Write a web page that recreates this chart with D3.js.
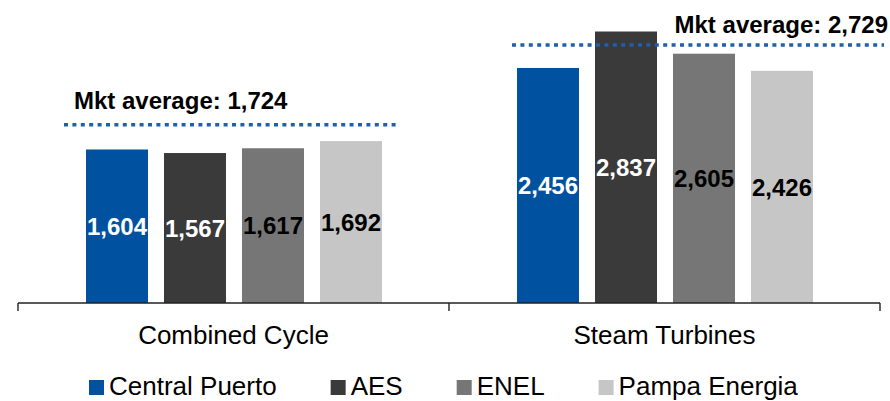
<!DOCTYPE html>
<html>
<head>
<meta charset="utf-8">
<script src="https://d3js.org/d3.v7.min.js"></script>
<style>
  body { margin: 0; background: #fff; }
  svg { display: block; font-family: Arial, 'Liberation Sans', sans-serif; }
</style>
</head>
<body>
<svg width="890" height="401"></svg>
<script>
  // data
  const categories = ['Combined Cycle', 'Steam Turbines'];
  const companies = ['Central Puerto', 'AES', 'ENEL', 'Pampa Energia'];
  const colors = ['#0052a0', '#3a3a3a', '#767676', '#c6c6c6'];
  const labelColors = ['#fff', '#fff', '#000', '#000'];
  const combinedCycle = [1604, 1567, 1617, 1692];
  const steamTurbines = [2456, 2837, 2605, 2426];
  const mktAverage = [1724, 2729];
  // level where the dotted line sits in the source (placed by hand, not at the average)
  const avgLineLevel = [1863, 2696];

  const seriesByCat = [combinedCycle, steamTurbines];

  const svg = d3.select('svg');

  // scales
  const x0 = d3.scaleBand()
    .domain(categories)
    .range([18, 880])
    .padding(0);

  const x1 = d3.scaleBand()
    .domain(companies)
    .range([60, 372])
    .paddingInner(0.205)
    .paddingOuter(0.1025);

  const y = d3.scaleLinear()
    .domain([0, 3000])
    .range([303, 15.9]);

  // bars
  categories.forEach(function(cat, ci) {
    const g = svg.append('g')
      .attr('transform', 'translate(' + x0(cat) + ',0)');

    g.selectAll('rect')
      .data(seriesByCat[ci])
      .join('rect')
      .attr('x', (d, i) => x1(companies[i]))
      .attr('y', d => y(d))
      .attr('width', x1.bandwidth())
      .attr('height', d => y(0) - y(d))
      .style('fill', (d, i) => colors[i]);

    g.selectAll('text')
      .data(seriesByCat[ci])
      .join('text')
      .attr('x', (d, i) => x1(companies[i]) + x1.bandwidth() / 2)
      .attr('y', d => (y(d) + y(0)) / 2 + 8.7)
      .attr('text-anchor', 'middle')
      .style('font-size', '24px')
      .style('font-weight', 'bold')
      .style('fill', (d, i) => labelColors[i])
      .text(d => d3.format(',')(d));
  });

  // market average lines (hand-placed extents as in the source)
  const firstBar = x1(companies[0]);
  const lastBar = x1(companies[3]) + x1.bandwidth();
  const avgSpans = [
    [x0(categories[0]) + firstBar - 22, x0(categories[0]) + lastBar + 18],
    [x0(categories[1]) + firstBar - 5, x0(categories[1]) + lastBar + 71]
  ];

  avgLineLevel.forEach(function(v, i) {
    svg.append('line')
      .attr('x1', avgSpans[i][0])
      .attr('x2', avgSpans[i][1])
      .attr('y1', y(v))
      .attr('y2', y(v))
      .attr('stroke', '#1f5fab')
      .attr('stroke-width', 3.6)
      .attr('stroke-dasharray', '4,4.4');
  });

  // avg labels
  svg.append('text')
    .attr('x', avgSpans[0][0] + 10)
    .attr('y', y(avgLineLevel[0]) - 16)
    .style('font-size', '24px')
    .style('font-weight', 'bold')
    .text('Mkt average: ' + d3.format(',')(mktAverage[0]));

  svg.append('text')
    .attr('x', avgSpans[1][1] + 4)
    .attr('y', y(avgLineLevel[1]) - 12)
    .attr('text-anchor', 'end')
    .style('font-size', '24px')
    .style('font-weight', 'bold')
    .text('Mkt average: ' + d3.format(',')(mktAverage[1]));

  // category axis
  const axisY = y(0);
  svg.append('line')
    .attr('x1', x0.range()[0])
    .attr('x2', x0.range()[1])
    .attr('y1', axisY)
    .attr('y2', axisY)
    .attr('stroke', '#222')
    .attr('stroke-width', 1.4);

  const tickXs = categories.map(c => x0(c)).concat([x0.range()[1]]);
  tickXs.forEach(function(tx) {
    svg.append('line')
      .attr('x1', tx)
      .attr('x2', tx)
      .attr('y1', axisY)
      .attr('y2', axisY + 8)
      .attr('stroke', '#222')
      .attr('stroke-width', 1.4);
  });

  svg.selectAll('.cat')
    .data(categories)
    .join('text')
    .attr('class', 'cat')
    .attr('x', d => x0(d) + x0.bandwidth() / 2)
    .attr('y', 344)
    .attr('text-anchor', 'middle')
    .style('font-size', '26px')
    .style('fill', '#000')
    .text(d => d);

  // legend
  const legend = svg.append('g').attr('transform', 'translate(89,0)');
  let lx = 0;
  companies.forEach(function(name, i) {
    legend.append('rect')
      .attr('x', lx)
      .attr('y', 380)
      .attr('width', 15)
      .attr('height', 15)
      .style('fill', colors[i]);
    const t = legend.append('text')
      .attr('x', lx + 20)
      .attr('y', 395)
      .style('font-size', '26px')
      .style('fill', '#000')
      .text(name);
    lx += 20 + t.node().getComputedTextLength() + 54;
  });
</script>
</body>
</html>
